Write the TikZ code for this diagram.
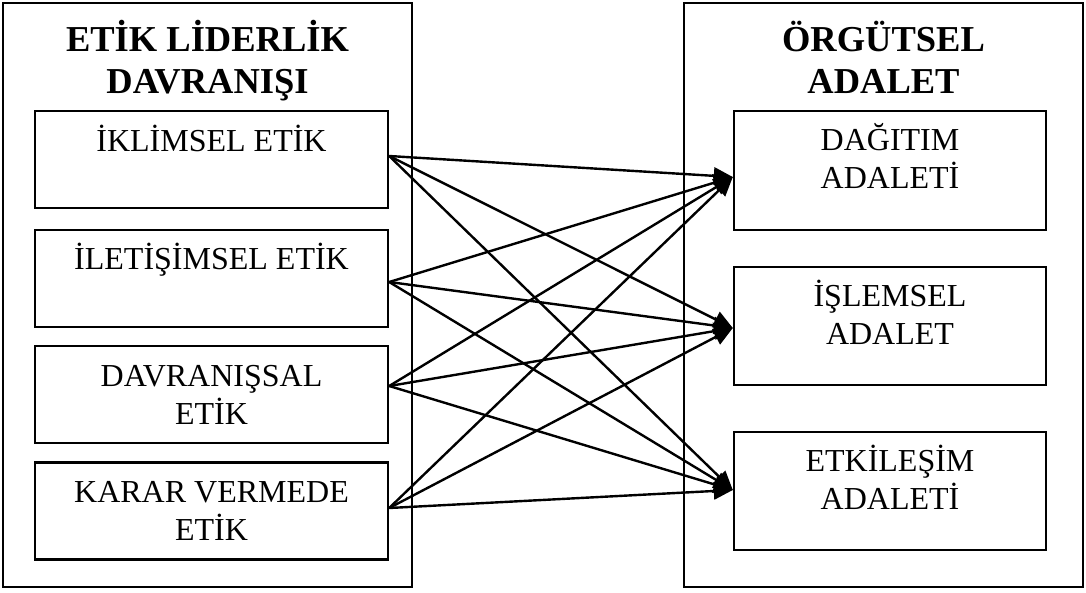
\documentclass[tikz,border=0pt]{standalone}
\usepackage{fontspec}
\setmainfont{Liberation Serif}
\usetikzlibrary{arrows.meta,positioning}

\tikzset{
  dis/.style={draw, line width=1.5pt, inner sep=0pt},
  kutu/.style={draw, line width=2.4pt, inner sep=0pt},
  baslik/.style={align=center, inner sep=0pt, anchor=base,
    font=\fontsize{36.5}{42}\selectfont\bfseries},
  yazi/.style={align=center, inner sep=0pt, anchor=base,
    font=\fontsize{32}{38}\selectfont},
  ok/.style={-{Triangle[length=19pt,width=17pt]}, line width=2.4pt},
}

\begin{document}
\begin{tikzpicture}[x=1pt,y=-1pt]
\useasboundingbox (0,0) rectangle (1086,592);

% dis kutular
\node[dis, minimum width=409pt, minimum height=584pt] (etik) at (207.5,295) {};
\node[dis, minimum width=399pt, minimum height=584pt] (adalet) at (883.5,295) {};
\node[baslik] (etikbas) at ([yshift=-91pt]etik.north) {ETİK LİDERLİK\\DAVRANIŞI};
\node[baslik] (adaletbas) at ([yshift=-91pt]adalet.north) {ÖRGÜTSEL\\ADALET};

% etik liderlik boyutlari
\node[kutu, minimum width=353pt, minimum height=97pt] (iklim) at (211.5,159.5) {};
\node[kutu, minimum width=353pt, minimum height=97pt] (ileti) at (211.5,278.5) {};
\node[kutu, minimum width=353pt, minimum height=97pt] (davran) at (211.5,394.5) {};
\node[kutu, minimum width=353pt, minimum height=97pt] (karar) at (211.5,511) {};
\node[yazi] at ([yshift=-42pt]iklim.north) {İKLİMSEL ETİK};
\node[yazi] at ([yshift=-41pt]ileti.north) {İLETİŞİMSEL ETİK};
\node[yazi] at ([yshift=-80pt]davran.north) {DAVRANIŞSAL\\ETİK};
\node[yazi] at ([yshift=-79pt]karar.north) {KARAR VERMEDE\\ETİK};

% orgutsel adalet boyutlari
\node[kutu, minimum width=312pt, minimum height=119pt] (dagitim) at (890,170.5) {};
\node[kutu, minimum width=312pt, minimum height=118pt] (islem) at (890,326) {};
\node[kutu, minimum width=312pt, minimum height=118pt] (etkile) at (890,491) {};
\node[yazi] at ([yshift=-79pt]dagitim.north) {DAĞITIM\\ADALETİ};
\node[yazi] at ([yshift=-79pt]islem.north) {İŞLEMSEL\\ADALET};
\node[yazi] at ([yshift=-79pt]etkile.north) {ETKİLEŞİM\\ADALETİ};

% oklar
\foreach \k/\a in {iklim/3.5, ileti/-3.5, davran/8.5, karar/3}
  \foreach \h/\b in {dagitim/-6.5, islem/-2, etkile/1}
    \draw[ok] ([yshift=\a pt]\k.east) -- ([yshift=\b pt]\h.west);
\end{tikzpicture}
\end{document}
